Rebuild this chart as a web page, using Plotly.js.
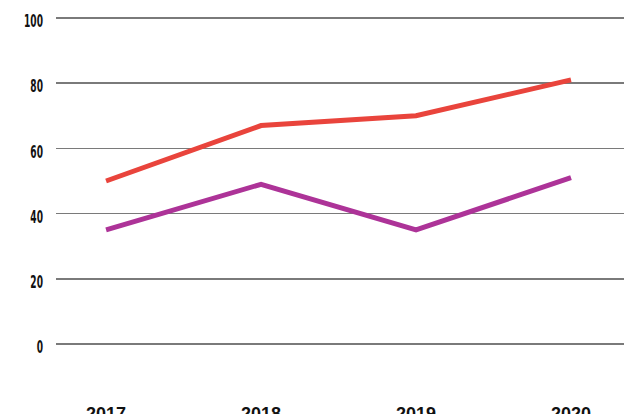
<!DOCTYPE html>
<html>
<head>
<meta charset="utf-8">
<script src="https://cdn.plot.ly/plotly-3.0.1.min.js"></script>
<style>html,body{margin:0;padding:0;background:#fff;}#chart{width:644px;height:414px;}</style>
</head>
<body>
<div id="chart"></div>
<script>
const years = [2017, 2018, 2019, 2020];
const yearLabels = ["2017", "2018", "2019", "2020"];
const seriesRed = [50, 67, 70, 81];
const seriesPurple = [35, 49, 35, 51];
const yTicks = [0, 20, 40, 60, 80, 100];

const traces = [
  {x: years, y: seriesRed, type: 'scatter', mode: 'lines', line: {color: '#e9443c', width: 5}, hoverinfo: 'none'},
  {x: years, y: seriesPurple, type: 'scatter', mode: 'lines', line: {color: '#ad3398', width: 5}, hoverinfo: 'none'}
];
const layout = {
  width: 644, height: 414,
  margin: {l: 56, r: 20, t: 10, b: 60},
  paper_bgcolor: '#fff', plot_bgcolor: '#fff',
  showlegend: false,
  xaxis: {
    range: [2016.677, 2020.342],
    tickvals: years, ticktext: yearLabels,
    showgrid: false, zeroline: false, showline: false,
    ticks: '', ticklabelstandoff: 47,
    tickfont: {family: 'Liberation Sans, Arial, sans-serif', size: 18, color: '#111', weight: 'bold'}
  },
  yaxis: {
    range: [-3.07, 102.45],
    tickvals: yTicks,
    showgrid: true, gridcolor: '#7a7a7a', gridwidth: 1.5,
    zeroline: false, showline: false, ticks: '',
    ticklabelstandoff: 12,
    tickfont: {family: 'DejaVu Sans Condensed', size: 18, color: '#111', weight: 'bold'}
  }
};
Plotly.newPlot('chart', traces, layout, {staticPlot: true, displayModeBar: false}).then(function (gd) {
  // narrow the y tick labels to mimic the condensed typeface of the reference
  gd.querySelectorAll('.ytick text').forEach(function (t) {
    const x = parseFloat(t.getAttribute('x')) || 0;
    const prev = t.getAttribute('transform') || '';
    t.setAttribute('transform', prev + ' translate(' + x + ',3) scale(0.56,1) translate(' + (-x) + ',0)');
  });
});
</script>
</body>
</html>
